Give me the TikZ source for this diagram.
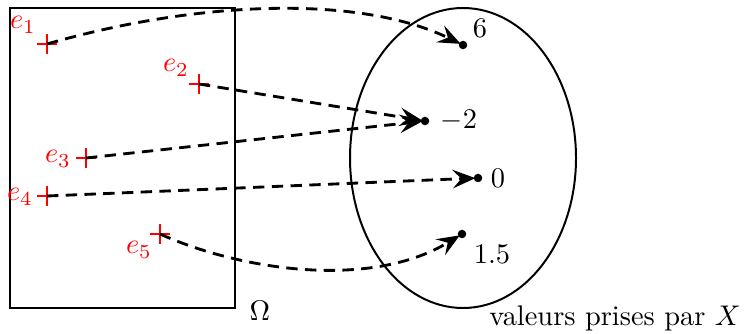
\documentclass[tikz,border=0pt]{standalone}
\usetikzlibrary{arrows.meta}
\begin{document}
\begin{tikzpicture}[x=0.352pt,y=-0.352pt,
  conn/.style={line width=1pt,dash pattern=on 4pt off 2.6pt,
    -{Stealth[length=8pt,width=6.5pt,inset=3pt]},shorten >=-0.8pt},
  val/.style={circle,fill=black,inner sep=0pt,minimum size=3pt},
  elab/.style={text=red,inner sep=0pt},
  plus/.pic={\draw[red,line width=0.9pt] (-10,0)--(10,0) (0,-10)--(0,10);}]
\useasboundingbox (0,0) rectangle (744,333);
% universe
\draw[line width=0.8pt] (10,8) rectangle (235,308);
\node (omega) at (260,311) {$\Omega$};
% ellipse
\draw[line width=0.7pt] (463,158) ellipse [x radius=113, y radius=150];
\node (vals) at (615,318) {valeurs prises par $X$};
% elements
\coordinate (e1) at (47,44);
\coordinate (e2) at (199,84);
\coordinate (e3) at (86,158);
\coordinate (e4) at (47,196);
\coordinate (e5) at (160,234);
\foreach \p in {e1,e2,e3,e4,e5} \pic at (\p) {plus};
\node[elab] (l1) at (23,25) {$e_1$};
\node[elab] (l2) at (176,68) {$e_2$};
\node[elab] (l3) at (58,159) {$e_3$};
\node[elab] (l4) at (20,197) {$e_4$};
\node[elab] (l5) at (139,250) {$e_5$};
% values
\node[val] (v6) at (463,45) {};
\node[val] (vm2) at (425,121) {};
\node[val] (v0) at (478,178) {};
\node[val] (v15) at (462,234) {};
\node (t6) at (480,28) {$6$};
\node (tm2) at (459,121) {$-2$};
\node (t0) at (498,178) {$0$};
\node (t15) at (492,254) {$1.5$};
% connectors
\draw[conn] (e1) .. controls (200,0) and (360,-5) .. (v6);
\draw[conn] (e2) -- (vm2);
\draw[conn] (e3) -- (vm2);
\draw[conn] (e4) -- (v0);
\draw[conn] (e5) .. controls (240,270) and (370,290) .. (v15);
\end{tikzpicture}
\end{document}
